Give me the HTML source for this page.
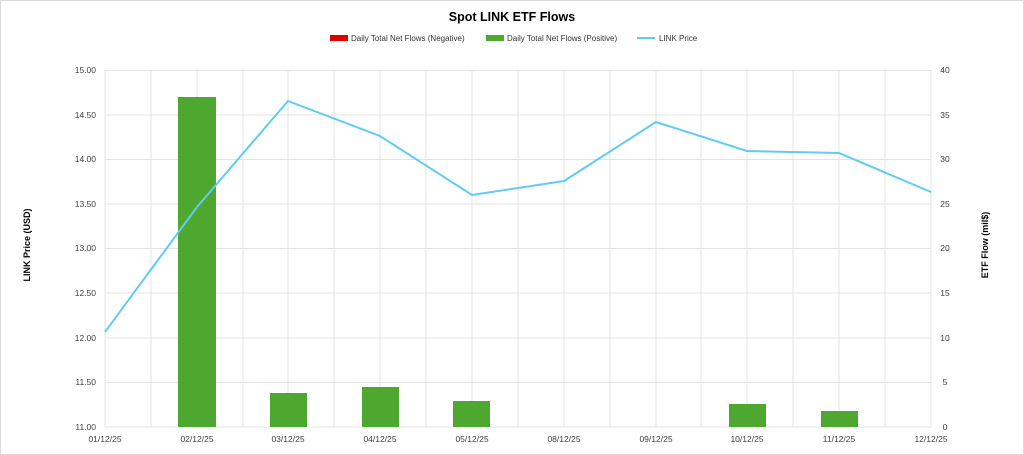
<!DOCTYPE html>
<html><head><meta charset="utf-8"><style>
body{margin:0;background:#fff}
svg{display:block;font-family:"Liberation Sans",sans-serif}
</style></head><body>
<svg width="1024" height="455" viewBox="0 0 1024 455">
<rect x="0.5" y="0.5" width="1023" height="454" fill="#fff" stroke="#d9d9d9"/>
<text x="512" y="21" text-anchor="middle" font-size="12.5" font-weight="bold" fill="#000">Spot LINK ETF Flows</text>
<g font-size="8" fill="#333">
<rect x="330" y="35" width="18" height="6" fill="#e00000"/><text x="351" y="41">Daily Total Net Flows (Negative)</text>
<rect x="486" y="35" width="18" height="6" fill="#4ea72e"/><text x="507" y="41">Daily Total Net Flows (Positive)</text>
<line x1="637" y1="38" x2="655" y2="38" stroke="#61cbf3" stroke-width="2"/><text x="659" y="41">LINK Price</text>
</g>
<g stroke="#e3e3e3" stroke-width="1">
<line x1="105" y1="70.5" x2="931" y2="70.5"/><line x1="105" y1="115" x2="931" y2="115"/>
<line x1="105" y1="159.5" x2="931" y2="159.5"/><line x1="105" y1="204" x2="931" y2="204"/>
<line x1="105" y1="248.5" x2="931" y2="248.5"/><line x1="105" y1="293" x2="931" y2="293"/>
<line x1="105" y1="338" x2="931" y2="338"/><line x1="105" y1="382.5" x2="931" y2="382.5"/>
<line x1="105" y1="427" x2="931" y2="427"/>
<line x1="105" y1="70" x2="105" y2="427"/><line x1="151" y1="70" x2="151" y2="427"/><line x1="197" y1="70" x2="197" y2="427"/><line x1="243" y1="70" x2="243" y2="427"/><line x1="288" y1="70" x2="288" y2="427"/><line x1="334" y1="70" x2="334" y2="427"/><line x1="380" y1="70" x2="380" y2="427"/><line x1="426" y1="70" x2="426" y2="427"/><line x1="472" y1="70" x2="472" y2="427"/><line x1="518" y1="70" x2="518" y2="427"/><line x1="564" y1="70" x2="564" y2="427"/><line x1="610" y1="70" x2="610" y2="427"/><line x1="656" y1="70" x2="656" y2="427"/><line x1="701" y1="70" x2="701" y2="427"/><line x1="747" y1="70" x2="747" y2="427"/><line x1="793" y1="70" x2="793" y2="427"/><line x1="839" y1="70" x2="839" y2="427"/><line x1="885" y1="70" x2="885" y2="427"/><line x1="931" y1="70" x2="931" y2="427"/>
</g>
<g fill="#4ea72e">
<rect x="178" y="97" width="38" height="330"/>
<rect x="270" y="393" width="37" height="34"/>
<rect x="362" y="387" width="37" height="40"/>
<rect x="453" y="401" width="37" height="26"/>
<rect x="729" y="404" width="37" height="23"/>
<rect x="821" y="411" width="37" height="16"/>
</g>
<polyline fill="none" stroke="#61cbf3" stroke-width="2" points="105,332 197,207 288,101 380,136 472,195 564,181 656,122 747,151 839,153 931,192"/>
<g font-size="8.5" fill="#404040" text-anchor="end">
<text x="96" y="73">15.00</text><text x="96" y="118">14.50</text><text x="96" y="162">14.00</text><text x="96" y="207">13.50</text><text x="96" y="251">13.00</text><text x="96" y="296">12.50</text><text x="96" y="341">12.00</text><text x="96" y="385">11.50</text><text x="96" y="430">11.00</text>
</g>
<g font-size="8.5" fill="#404040" text-anchor="middle">
<text x="945" y="73">40</text><text x="945" y="118">35</text><text x="945" y="162">30</text><text x="945" y="207">25</text><text x="945" y="251">20</text><text x="945" y="296">15</text><text x="945" y="341">10</text><text x="945" y="385">5</text><text x="945" y="430">0</text>
</g>
<g font-size="8.5" fill="#404040" text-anchor="middle">
<text x="105" y="442">01/12/25</text><text x="197" y="442">02/12/25</text><text x="288" y="442">03/12/25</text><text x="380" y="442">04/12/25</text><text x="472" y="442">05/12/25</text><text x="564" y="442">08/12/25</text><text x="656" y="442">09/12/25</text><text x="747" y="442">10/12/25</text><text x="839" y="442">11/12/25</text><text x="931" y="442">12/12/25</text>
</g>
<text transform="translate(30,245) rotate(-90)" text-anchor="middle" font-size="9" font-weight="bold">LINK Price (USD)</text>
<text transform="translate(988,245) rotate(-90)" text-anchor="middle" font-size="9" font-weight="bold">ETF Flow (mil$)</text>
</svg>
</body></html>
